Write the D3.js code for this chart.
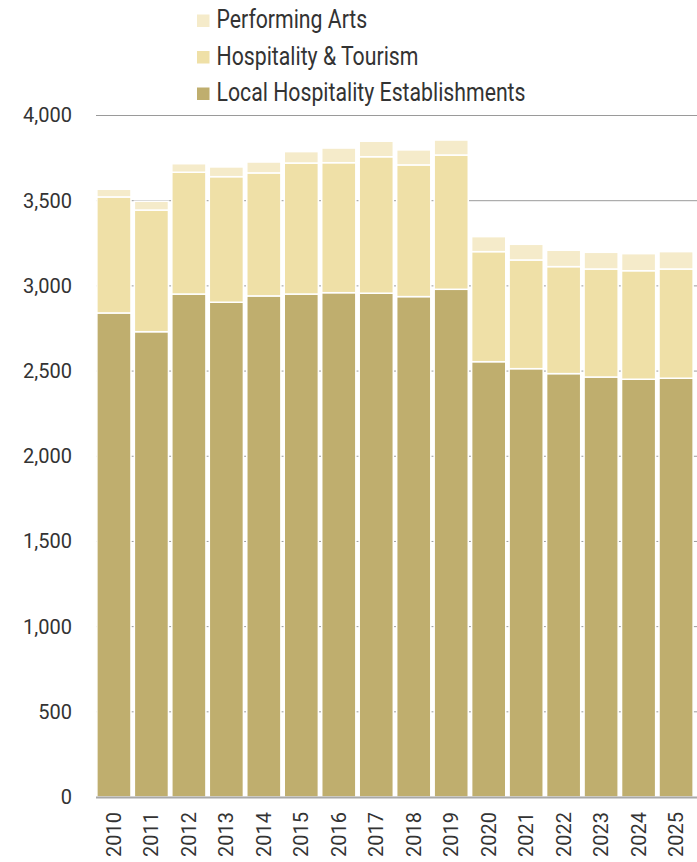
<!DOCTYPE html>
<html>
<head>
<meta charset="utf-8">
<script src="https://cdn.jsdelivr.net/npm/d3@7"></script>
<style>
  html, body { margin: 0; padding: 0; background: #fff; }
  svg { display: block; font-family: Roboto, "Noto Sans", sans-serif; }
</style>
</head>
<body>
<svg id="chart" width="697" height="862"></svg>
<script>
// Establishments by year, stacked by category
const years = ["2010","2011","2012","2013","2014","2015","2016","2017","2018","2019","2020","2021","2022","2023","2024","2025"];
const localHospitality = [2841, 2731, 2952, 2904, 2941, 2952, 2960, 2957, 2937, 2980, 2555, 2514, 2485, 2465, 2452, 2458];
const hospitalityTourism = [681, 714, 715, 737, 722, 769, 763, 801, 773, 788, 646, 638, 628, 634, 637, 641];
const performingArts = [45, 52, 50, 57, 64, 67, 86, 91, 88, 88, 88, 92, 96, 98, 100, 102];

const seriesNames = ["Local Hospitality Establishments", "Hospitality & Tourism", "Performing Arts"];
const seriesColors = ["#bfae6e", "#efe0a7", "#f5ebca"];
const yTicks = [0, 500, 1000, 1500, 2000, 2500, 3000, 3500, 4000];

const rows = years.map((y, i) => ({
  year: y,
  "Local Hospitality Establishments": localHospitality[i],
  "Hospitality & Tourism": hospitalityTourism[i],
  "Performing Arts": performingArts[i]
}));

const svg = d3.select("#chart");
const plotLeft = 96, plotRight = 697, plotTop = 115.5, plotBottom = 797;

const x = d3.scaleBand().domain(years).range([95, 695]).paddingInner(0.09).paddingOuter(0.05);
const y = d3.scaleLinear().domain([0, 4000]).range([plotBottom, plotTop]);
const color = d3.scaleOrdinal().domain(seriesNames).range(seriesColors);

// Gridlines
svg.append("g")
  .selectAll("line")
  .data(yTicks.filter(d => d > 0))
  .join("line")
  .attr("x1", plotLeft).attr("x2", plotRight)
  .attr("y1", d => y(d)).attr("y2", d => y(d))
  .attr("stroke", "#9a9a9a").attr("stroke-width", 1);

// Stacked bars
const stacked = d3.stack().keys(seriesNames)(rows);
svg.append("g")
  .selectAll("g")
  .data(stacked)
  .join("g")
  .attr("fill", d => color(d.key))
  .selectAll("rect")
  .data(d => d)
  .join("rect")
  .attr("x", d => x(d.data.year))
  .attr("width", x.bandwidth())
  .attr("y", d => y(d[1]))
  .attr("height", d => y(d[0]) - y(d[1]))
  .attr("stroke", "#ffffff")
  .attr("stroke-width", 1.5);

// Baseline
svg.append("line")
  .attr("x1", plotLeft).attr("x2", plotRight)
  .attr("y1", y(0) + 0.5).attr("y2", y(0) + 0.5)
  .attr("stroke", "#a8a8a8").attr("stroke-width", 2);

// Y axis labels
const yAxis = d3.axisLeft(y).tickValues(yTicks).tickFormat(d3.format(",")).tickSize(0).tickPadding(0);
const yg = svg.append("g").attr("transform", "translate(72,0)").call(yAxis);
yg.select(".domain").remove();
yg.selectAll("text")
  .attr("font-family", "Roboto, sans-serif")
  .attr("font-size", 20)
  .attr("fill", "#333333");

// X axis labels (rotated)
const xAxis = d3.axisBottom(x).tickSize(0).tickPadding(0);
const xg = svg.append("g").attr("transform", `translate(0,${plotBottom})`).call(xAxis);
xg.select(".domain").remove();
xg.selectAll("text")
  .attr("font-family", "Roboto, sans-serif")
  .attr("font-size", 20)
  .attr("fill", "#333333")
  .attr("text-anchor", "end")
  .attr("transform", "translate(0,15) rotate(-90)")
  .attr("x", 0)
  .attr("y", 0)
  .attr("dy", "0.35em");

// Legend
const legendItems = ["Performing Arts", "Hospitality & Tourism", "Local Hospitality Establishments"];
const legend = svg.append("g").attr("transform", "translate(197,0)");
const li = legend.selectAll("g")
  .data(legendItems)
  .join("g")
  .attr("transform", (d, i) => `translate(0,${28 + i * 36.5})`);
li.append("rect")
  .attr("x", 0).attr("y", -13.5)
  .attr("width", 12.5).attr("height", 12.5)
  .attr("fill", d => color(d));
li.append("text")
  .attr("transform", "translate(19.5,0) scale(0.85,1)")
  .attr("font-family", "Roboto, sans-serif")
  .attr("font-size", 25)
  .attr("fill", "#333333")
  .text(d => d);
</script>
</body>
</html>
